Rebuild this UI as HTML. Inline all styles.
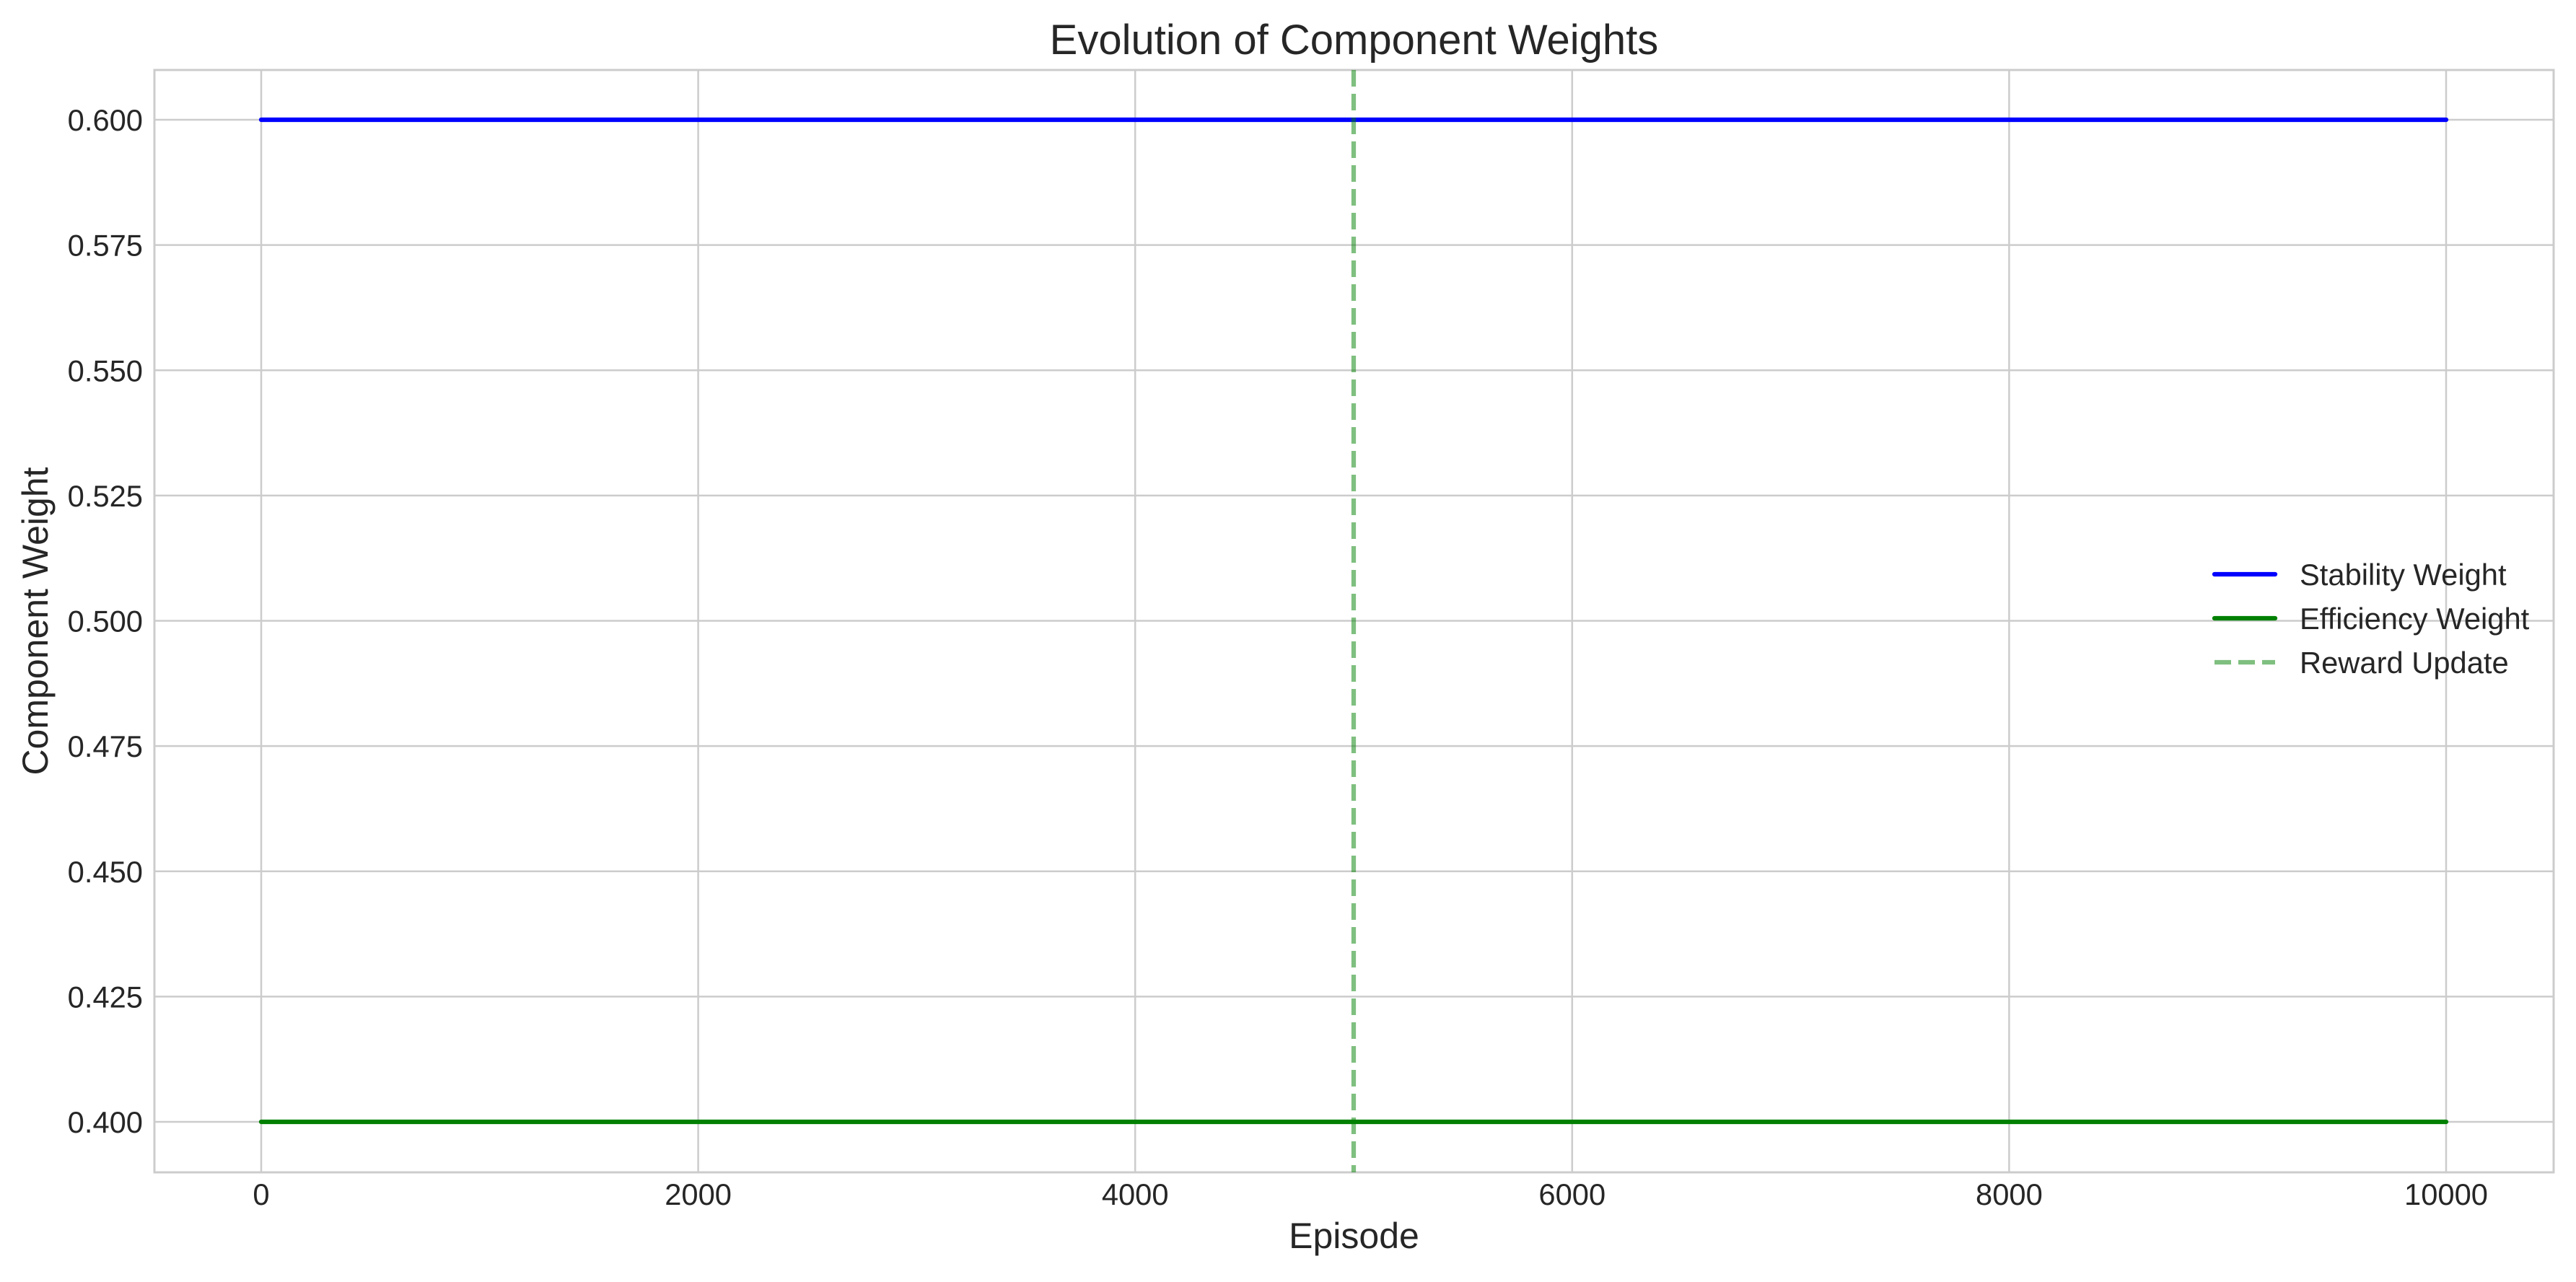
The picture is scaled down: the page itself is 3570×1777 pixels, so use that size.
<!DOCTYPE html>
<html><head><meta charset="utf-8"><style>
body{margin:0;background:#fff}
text{font-family:"Liberation Sans",sans-serif;fill:#262626}
</style></head><body>
<svg id="c" width="3570" height="1772" xmlns="http://www.w3.org/2000/svg"></svg>
<script>
const xTicks=[0,2000,4000,6000,8000,10000];
const yTicks=[0.400,0.425,0.450,0.475,0.500,0.525,0.550,0.575,0.600];
const episodes=[0,10000];
const stability=[0.6,0.6];
const efficiency=[0.4,0.4];
const rewardUpdate=[5000];
const X=v=>362+(v-0)*(3390-362)/10000;
const Y=v=>1555-(v-0.4)*(1555-166)/0.2;
const L=214,R=3539,T=97,B=1625;
const svg=document.getElementById('c');
const NS='http://www.w3.org/2000/svg';
function mk(tag,a,p){const e=document.createElementNS(NS,tag);for(const k in a)e.setAttribute(k,a[k]);(p||svg).appendChild(e);return e;}
const grid=mk('g',{});


xTicks.forEach(t=>{const l=mk('line',{x1:X(t),x2:X(t),y1:T,y2:B,stroke:'#cccccc','stroke-width':2.5},grid);


const tx=mk('text',{x:X(t),y:1670,'font-size':41.7,'text-anchor':'middle'});tx.textContent=t;

});
yTicks.forEach(t=>{const l=mk('line',{x1:L,x2:R,y1:Y(t),y2:Y(t),stroke:'#cccccc','stroke-width':2.5},grid);


const tx=mk('text',{x:198,y:Y(t)+15,'font-size':41.7,'text-anchor':'end'});tx.textContent=t.toFixed(3);

});
const fr=mk('rect',{x:L,y:T,width:R-L,height:B-T,fill:'none',stroke:'#cccccc','stroke-width':3});


function series(vals,col,name){const pts=episodes.map((e,i)=>X(e)+','+Y(vals[i])).join(' ');
const p=mk('polyline',{points:pts,fill:'none',stroke:col,'stroke-width':6.25,'stroke-linecap':'round'});

}
series(stability,'#0000ff','stability-line');
series(efficiency,'#008000','efficiency-line');
rewardUpdate.forEach(r=>{const l=mk('line',{x1:X(r),x2:X(r),y1:T,y2:B,stroke:'#008000','stroke-opacity':0.5,'stroke-width':6.25,'stroke-dasharray':'23 10'});

});
const t=mk('text',{x:(L+R)/2,y:75,'font-size':58,'text-anchor':'middle'});t.textContent='Evolution of Component Weights';


const xl=mk('text',{x:(L+R)/2,y:1730,'font-size':50,'text-anchor':'middle'});xl.textContent='Episode';


const yl=mk('text',{x:0,y:0,'font-size':50,'text-anchor':'middle',transform:'translate(66,861) rotate(-90)'});yl.textContent='Component Weight';


const leg=[['Stability Weight','#0000ff',1,''],['Efficiency Weight','#008000',1,''],['Reward Update','#008000',0.5,'23 10']];
leg.forEach((d,i)=>{const y=796+i*61;const g=mk('g',{});


mk('line',{x1:3069,x2:3153,y1:y,y2:y,stroke:d[1],'stroke-opacity':d[2],'stroke-width':6.25,'stroke-dasharray':d[3],'stroke-linecap':d[3]?'butt':'round'},g);
const tx=mk('text',{x:3187,y:y+15,'font-size':41.7},g);tx.textContent=d[0];});
</script>
</body></html>
